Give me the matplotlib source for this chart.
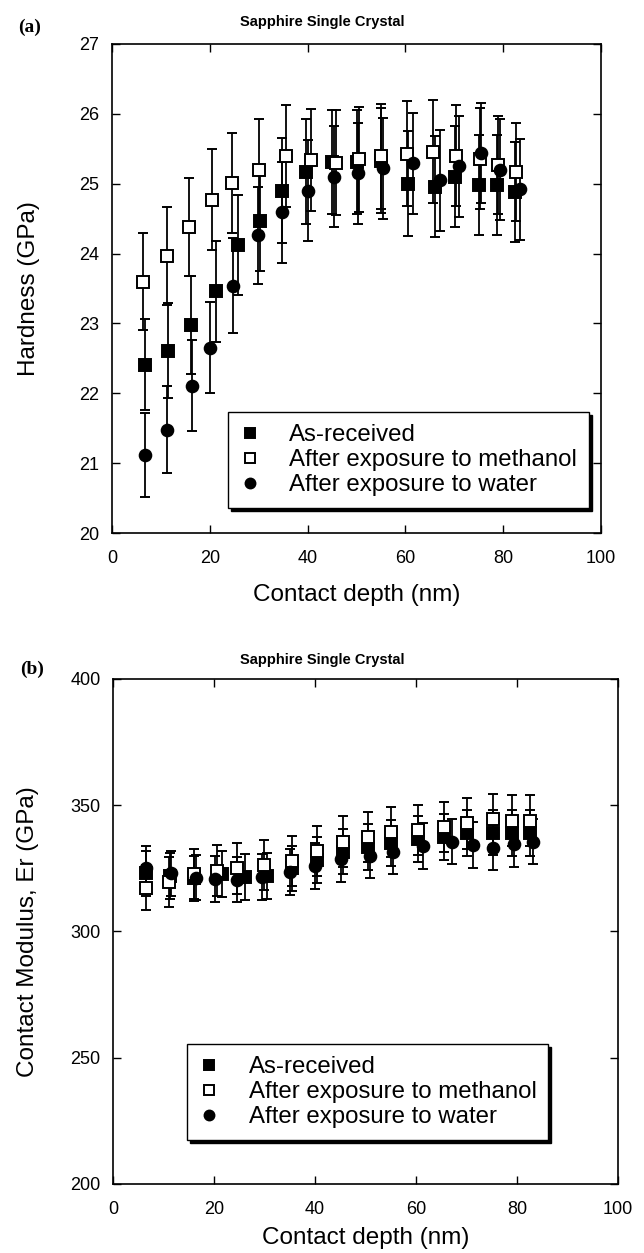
import matplotlib
matplotlib.use("Agg")
import matplotlib.pyplot as plt

plt.rcParams['font.family'] = ['Liberation Sans', 'DejaVu Sans']

# ---- panel (a): hardness ----
depth_ar_a = [6.75, 11.5, 16.2, 21.2, 25.8, 30.3, 34.7, 39.7, 44.9, 50.0, 55.0, 60.6, 66.1, 70.1, 75.1, 78.7, 82.4]
hard_ar = [22.41, 22.61, 22.98, 23.46, 24.12, 24.47, 24.90, 25.17, 25.31, 25.31, 25.33, 25.00, 24.96, 25.10, 24.98, 24.98, 24.88]
err_hard_ar = [0.65, 0.68, 0.70, 0.72, 0.72, 0.72, 0.75, 0.75, 0.75, 0.75, 0.75, 0.75, 0.72, 0.72, 0.72, 0.72, 0.72]

depth_me_a = [6.4, 11.2, 15.8, 20.4, 24.5, 30.1, 35.6, 40.6, 45.9, 50.6, 55.0, 60.3, 65.6, 70.3, 75.3, 78.9, 82.6]
hard_me = [23.60, 23.97, 24.38, 24.77, 25.01, 25.20, 25.39, 25.34, 25.30, 25.35, 25.39, 25.43, 25.46, 25.40, 25.36, 25.27, 25.17]
err_hard_me = [0.70, 0.70, 0.70, 0.72, 0.72, 0.72, 0.73, 0.73, 0.75, 0.75, 0.75, 0.75, 0.74, 0.72, 0.72, 0.70, 0.70]

depth_wa_a = [6.75, 11.2, 16.4, 20.0, 24.7, 29.8, 34.7, 40.0, 45.3, 50.3, 55.5, 61.5, 67.1, 71.0, 75.4, 79.3, 83.4]
hard_wa = [21.12, 21.48, 22.11, 22.65, 23.54, 24.26, 24.59, 24.90, 25.10, 25.15, 25.22, 25.29, 25.05, 25.25, 25.44, 25.20, 24.92]
err_hard_wa = [0.60, 0.62, 0.65, 0.65, 0.68, 0.70, 0.72, 0.72, 0.72, 0.72, 0.72, 0.72, 0.72, 0.72, 0.72, 0.72, 0.72]

# ---- panel (b): contact modulus ----
depth_ar_b = [6.5, 11.3, 16.0, 21.5, 26.2, 30.5, 35.4, 40.3, 45.6, 50.4, 55.0, 60.3, 65.5, 70.1, 75.2, 79.0, 82.6]
mod_ar = [323.0, 322.0, 321.0, 322.7, 321.5, 322.0, 325.0, 328.3, 331.6, 333.5, 335.0, 336.6, 337.5, 339.0, 339.1, 339.0, 339.0]
err_mod_ar = [9, 9, 9, 9, 9, 9, 9, 9, 9, 9, 9, 9, 9, 9, 9, 9, 9]

depth_me_b = [6.5, 11.1, 16.0, 20.5, 24.5, 29.9, 35.4, 40.3, 45.6, 50.4, 55.0, 60.3, 65.5, 70.1, 75.2, 79.0, 82.6]
mod_me = [317.4, 319.7, 322.8, 324.1, 325.0, 326.3, 328.0, 331.9, 335.6, 337.4, 339.5, 340.2, 341.3, 342.8, 344.4, 343.9, 343.9]
err_mod_me = [9, 10, 10, 10, 10, 10, 10, 10, 10, 10, 10, 10, 10, 10, 10, 10, 10]

depth_wa_b = [6.5, 11.5, 16.4, 20.2, 24.5, 29.5, 35.0, 40.0, 45.2, 50.8, 55.5, 61.4, 67.2, 71.2, 75.3, 79.5, 83.2]
mod_wa = [325.0, 323.0, 321.3, 320.8, 320.5, 321.5, 323.5, 326.0, 328.7, 330.0, 331.6, 333.9, 335.6, 334.3, 333.2, 334.5, 335.6]
err_mod_wa = [9, 9, 9, 9, 9, 9, 9, 9, 9, 9, 9, 9, 9, 9, 9, 9, 9]

labels = ['As-received', 'After exposure to methanol', 'After exposure to water']
x_ticks = [0, 20, 40, 60, 80, 100]
title = 'Sapphire Single Crystal'


def plot_series(ax, x, y, err, marker, face, label):
    ax.errorbar(x, y, yerr=err, fmt=marker, ms=8.4, mfc=face, mec='black', mew=1.4,
                ecolor='black', elinewidth=1.3, capsize=3.6, capthick=1.3, label=label)


def style_axes(ax, ylim, yticks, ylabel, xlab_y):
    ax.set_xlim(0, 100)
    ax.set_ylim(*ylim)
    ax.set_xticks(x_ticks)
    ax.set_yticks(yticks)
    ax.tick_params(direction='in', length=6, width=1, top=True, right=True, labelsize=13)
    ax.tick_params(axis='x', pad=12)
    ax.tick_params(axis='y', pad=9)
    for sp in ax.spines.values():
        sp.set_linewidth(1.2)
    ax.set_xlabel('Contact depth (nm)', fontsize=17.5)
    ax.xaxis.set_label_coords(0.5, xlab_y)
    ax.set_ylabel(ylabel, fontsize=17.5)
    ax.yaxis.set_label_coords(-0.147, 0.5)


fig = plt.figure(figsize=(6.44, 12.53), dpi=100)
ax_a = fig.add_axes([112 / 644, 1 - 533 / 1253, 489 / 644, 489 / 1253])
ax_b = fig.add_axes([113 / 644, 1 - 1184 / 1253, 505 / 644, 505 / 1253])

plot_series(ax_a, depth_ar_a, hard_ar, err_hard_ar, 's', 'black', labels[0])
plot_series(ax_a, depth_me_a, hard_me, err_hard_me, 's', 'white', labels[1])
plot_series(ax_a, depth_wa_a, hard_wa, err_hard_wa, 'o', 'black', labels[2])
style_axes(ax_a, (20, 27), range(20, 28), 'Hardness (GPa)', -0.105)

plot_series(ax_b, depth_ar_b, mod_ar, err_mod_ar, 's', 'black', labels[0])
plot_series(ax_b, depth_me_b, mod_me, err_mod_me, 's', 'white', labels[1])
plot_series(ax_b, depth_wa_b, mod_wa, err_mod_wa, 'o', 'black', labels[2])
style_axes(ax_b, (200, 400), range(200, 401, 50), 'Contact Modulus, Er (GPa)', -0.085)

for ax, anchor in [(ax_a, (0.237, 0.051)), (ax_b, (0.147, 0.087))]:
    handles, labs = ax.get_legend_handles_labels()
    handles = [h[0] for h in handles]  # marker only, no error bars in legend
    leg = ax.legend(handles, labs, loc='lower left', bbox_to_anchor=anchor, borderaxespad=0,
                    fontsize=17.3, frameon=True, fancybox=False, edgecolor='black',
                    shadow={'color': 'black', 'alpha': 1}, handlelength=0.8,
                    handletextpad=1.25, labelspacing=0.12, borderpad=0.5, markerscale=0.85)
    leg.get_frame().set_linewidth(1.0)

# titles sit centred on the page, not on the plot box
fig.text(0.5, 1 - 22 / 1253, title, fontsize=10.5, fontweight='bold', ha='center', va='center')
fig.text(0.5, 1 - 660 / 1253, title, fontsize=10.5, fontweight='bold', ha='center', va='center')

fig.text(18 / 644, 1 - 27 / 1253, '(a)', family='Liberation Serif', fontweight='bold',
         fontsize=14, va='center')
fig.text(20 / 644, 1 - 669 / 1253, '(b)', family='Liberation Serif', fontweight='bold',
         fontsize=14, va='center')

fig.savefig('out.png', dpi=100)
